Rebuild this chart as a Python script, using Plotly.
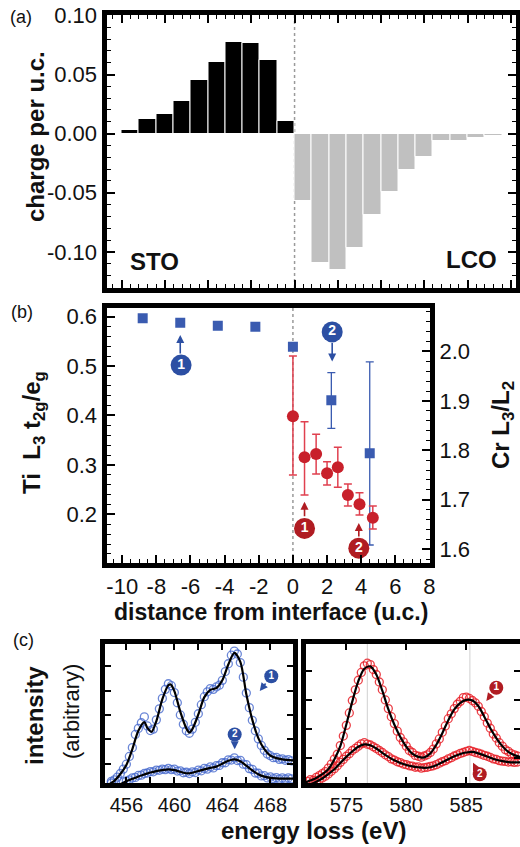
import numpy as np
import plotly.graph_objects as go

FONT = "Liberation Sans, Arial, Helvetica, sans-serif"
W, H = 520, 847

# ---------------- Panel (a): charge per unit cell ----------------
sto_pos = [-9.5, -8.5, -7.5, -6.5, -5.5, -4.5, -3.5, -2.5, -1.5, -0.5]
sto_charge = [0.003, 0.0126, 0.0165, 0.0275, 0.0455, 0.0604, 0.0772, 0.0764, 0.0624, 0.0106]
lco_pos = [0.5, 1.5, 2.5, 3.5, 4.5, 5.5, 6.5, 7.5, 8.5, 9.5, 10.5, 11.5]
lco_charge = [-0.0571, -0.1096, -0.1152, -0.0964, -0.0689, -0.0492, -0.031, -0.020,
              -0.0062, -0.0062, -0.0034, -0.0023]

# ---------------- Panel (b) ----------------
ti_x = [-8.8, -6.6, -4.4, -2.2, 0.0, 2.25, 4.5]
ti_ratio = [0.5965, 0.5876, 0.5816, 0.5795, 0.539, 0.431, 0.3235]
ti_err_up = [0, 0, 0, 0, 0, 0.0555, 0.185]
ti_err_dn = [0, 0, 0, 0, 0, 0.057, 0.1855]

cr_x = [0.0, 0.68, 1.36, 2.0, 2.63, 3.22, 3.9, 4.68]
cr_ratio = [1.869, 1.786, 1.7925, 1.7534, 1.7656, 1.7095, 1.6907, 1.6636]
cr_err_up = [0.122, 0.072, 0.040, 0.0235, 0.0405, 0.0223, 0.0235, 0.0236]
cr_err_dn = [0.119, 0.0763, 0.0405, 0.0236, 0.0405, 0.0223, 0.0217, 0.0229]

# ---------------- Panel (c): spectra ----------------
ti_e = np.round(np.arange(454.25, 470.001, 0.25), 2)
ti1_data = [-0.84, -0.80, -0.72, -0.66, -0.55, -0.40, -0.22, -0.02,
            0.30, 0.66, 1.20, 1.45, 1.68, 1.92, 1.55, 1.36,
            1.42, 1.80, 2.25, 2.68, 3.05, 3.28, 3.20, 2.92,
            2.50, 2.00, 1.62, 1.35, 1.25, 1.42, 1.70, 2.05,
            2.42, 2.75, 2.95, 3.08, 3.05, 3.15, 3.22, 3.42,
            3.78, 4.10, 4.45, 4.62, 4.50, 4.15, 3.55, 2.90,
            2.30, 1.78, 1.35, 1.02, 0.75, 0.55, 0.40, 0.33,
            0.25, 0.26, 0.18, 0.20, 0.14, 0.17, 0.12, 0.15]
ti2_data = [-0.80, -0.83, -0.79, -0.82, -0.80, -0.80, -0.74, -0.70,
            -0.66, -0.58, -0.56, -0.48, -0.47, -0.40, -0.38, -0.32,
            -0.33, -0.26, -0.27, -0.22, -0.24, -0.19, -0.24, -0.22,
            -0.30, -0.29, -0.37, -0.35, -0.40, -0.33, -0.36, -0.26,
            -0.29, -0.19, -0.22, -0.13, -0.17, -0.08, -0.07, 0.04,
            0.04, 0.16, 0.15, 0.24, 0.13, 0.14, -0.02, -0.04,
            -0.20, -0.23, -0.38, -0.39, -0.50, -0.49, -0.58, -0.54,
            -0.61, -0.57, -0.63, -0.58, -0.63, -0.58, -0.62, -0.59]
ti1_fit_e = [454.5, 455, 455.5, 456, 456.5, 457, 457.5, 457.75, 458.1, 458.5,
             459, 459.5, 459.7, 460, 460.5, 461, 461.25, 461.5, 462, 462.5,
             463, 463.5, 464, 464.5, 465, 465.5, 466, 466.5, 467, 467.5,
             468, 468.5, 469, 470]
ti1_fit = [-0.86, -0.70, -0.42, -0.05, 0.60, 1.35, 1.71, 1.47, 1.31, 1.75,
           2.65, 3.22, 3.25, 2.98, 2.13, 1.45, 1.28, 1.42, 2.02, 2.73,
           3.03, 3.10, 3.42, 4.07, 4.55, 4.18, 2.85, 1.80, 1.05, 0.60,
           0.33, 0.23, 0.18, 0.13]
ti2_fit_e = [455.5, 456, 456.5, 457, 457.5, 458, 458.5, 459, 459.5, 460,
             460.5, 461, 461.5, 462, 462.5, 463, 463.5, 464, 464.5, 465,
             465.5, 466, 466.5, 467, 467.5, 468, 468.5, 469, 470]
ti2_fit = [-0.84, -0.72, -0.62, -0.52, -0.44, -0.36, -0.30, -0.26, -0.23, -0.26,
           -0.33, -0.39, -0.37, -0.30, -0.23, -0.17, -0.12, 0.0, 0.12, 0.18,
           0.10, -0.08, -0.27, -0.43, -0.53, -0.58, -0.60, -0.61, -0.61]

cr_e = np.round(np.arange(571.5, 590.001, 0.25), 2)
cr1_data = [-0.85, -0.82, -0.76, -0.78, -0.68, -0.62, -0.55, -0.48,
            -0.36, -0.22, -0.05, 0.12, 0.42, 0.75, 1.12, 1.55,
            1.98, 2.35, 2.68, 2.95, 3.18, 3.27, 3.22, 3.05,
            2.88, 2.62, 2.35, 2.00, 1.70, 1.42, 1.18, 0.92,
            0.70, 0.55, 0.40, 0.25, 0.18, 0.08, 0.05, 0.02,
            0.06, 0.10, 0.18, 0.30, 0.48, 0.65, 0.88, 1.10,
            1.35, 1.52, 1.70, 1.85, 1.95, 2.08, 2.10, 2.05,
            1.98, 1.90, 1.78, 1.60, 1.42, 1.20, 1.02, 0.82,
            0.68, 0.52, 0.40, 0.28, 0.22, 0.14, 0.10, 0.06,
            0.05, 0.02, 0.03]
cr2_data = [-0.92, -0.93, -0.90, -0.86, -0.84, -0.76, -0.70, -0.64,
            -0.56, -0.47, -0.38, -0.28, -0.16, -0.06, 0.05, 0.14,
            0.25, 0.32, 0.40, 0.48, 0.52, 0.47, 0.44, 0.38,
            0.32, 0.25, 0.18, 0.10, 0.04, -0.04, -0.08, -0.14,
            -0.17, -0.22, -0.24, -0.28, -0.29, -0.33, -0.32, -0.36,
            -0.34, -0.33, -0.30, -0.28, -0.24, -0.19, -0.14, -0.10,
            -0.04, 0.00, 0.06, 0.10, 0.15, 0.18, 0.22, 0.25,
            0.22, 0.18, 0.16, 0.12, 0.08, 0.05, 0.01, -0.04,
            -0.06, -0.10, -0.12, -0.13, -0.15, -0.14, -0.16, -0.15,
            -0.17, -0.15, -0.16]
cr_fit_e = np.round(np.arange(571.5, 590.001, 0.5), 2)
cr1_fit = [-0.87, -0.79, -0.70, -0.57, -0.40, -0.06, 0.40, 1.15, 1.95, 2.65,
           3.08, 3.16, 2.88, 2.32, 1.68, 1.15, 0.72, 0.38, 0.14, 0.03,
           0.01, 0.15, 0.45, 0.85, 1.30, 1.67, 1.90, 2.00, 1.98, 1.79,
           1.42, 1.02, 0.68, 0.40, 0.20, 0.09, 0.03, 0.00]
cr2_fit = [-0.95, -0.92, -0.83, -0.72, -0.57, -0.40, -0.18, 0.03, 0.22, 0.38,
           0.46, 0.43, 0.32, 0.17, 0.03, -0.09, -0.18, -0.25, -0.30, -0.33,
           -0.35, -0.33, -0.26, -0.16, -0.05, 0.05, 0.13, 0.18, 0.20, 0.15,
           0.08, 0.00, -0.07, -0.12, -0.15, -0.16, -0.16, -0.16]
cr_ref_lines = [576.75, 585.3]

BLUE = "#3a5bb0"
BLUE_DARK = "#2c4fa3"
RED = "#c8202b"
RED_ERR = "#e0404f"
RED_DARK = "#b01c22"


def px(x):
    return x / W


def py(y):
    return 1 - y / H


fig = go.Figure()

# panel a bars
fig.add_trace(go.Bar(x=sto_pos, y=sto_charge, width=1, xaxis="x", yaxis="y",
                     marker=dict(color="black", line=dict(color="white", width=1)),
                     showlegend=False))
fig.add_trace(go.Bar(x=lco_pos, y=lco_charge, width=1, xaxis="x", yaxis="y",
                     marker=dict(color="#c0c0c0", line=dict(color="white", width=1)),
                     showlegend=False))

# panel b
fig.add_trace(go.Scatter(x=ti_x, y=ti_ratio, xaxis="x2", yaxis="y2", mode="markers",
                         marker=dict(symbol="square", size=10, color=BLUE),
                         error_y=dict(type="data", symmetric=False, array=ti_err_up,
                                      arrayminus=ti_err_dn, color=BLUE, thickness=1.3, width=4),
                         showlegend=False))
fig.add_trace(go.Scatter(x=cr_x, y=cr_ratio, xaxis="x2", yaxis="y3", mode="markers",
                         marker=dict(symbol="circle", size=12, color=RED),
                         error_y=dict(type="data", symmetric=False, array=cr_err_up,
                                      arrayminus=cr_err_dn, color=RED_ERR, thickness=1.5, width=4),
                         showlegend=False))

# panel c spectra
for yd in (ti1_data, ti2_data):
    fig.add_trace(go.Scatter(x=ti_e, y=yd, xaxis="x4", yaxis="y4", mode="markers",
                             marker=dict(symbol="circle-open", size=8, color="rgba(70,105,205,0.8)",
                                         line=dict(width=1.3)),
                             showlegend=False))
for xe, yf in ((ti1_fit_e, ti1_fit), (ti2_fit_e, ti2_fit)):
    fig.add_trace(go.Scatter(x=xe, y=yf, xaxis="x4", yaxis="y4", mode="lines",
                             line=dict(color="black", width=2.2, shape="spline", smoothing=0.8),
                             showlegend=False))
for yd in (cr1_data, cr2_data):
    fig.add_trace(go.Scatter(x=cr_e, y=yd, xaxis="x5", yaxis="y5", mode="markers",
                             marker=dict(symbol="circle-open", size=8, color="rgba(232,32,40,0.85)",
                                         line=dict(width=1.3)),
                             showlegend=False))
for yf in (cr1_fit, cr2_fit):
    fig.add_trace(go.Scatter(x=cr_fit_e, y=yf, xaxis="x5", yaxis="y5", mode="lines",
                             line=dict(color="black", width=2.2, shape="spline", smoothing=0.8),
                             showlegend=False))


# circled labels
def circ(x, y, t, color, xa, ya, size, fsize):
    fig.add_trace(go.Scatter(x=[x], y=[y], xaxis=xa, yaxis=ya, mode="markers+text",
                             marker=dict(size=size, color=color),
                             text=["<b>%s</b>" % t], textposition="middle center",
                             textfont=dict(color="white", size=fsize, family=FONT),
                             showlegend=False, cliponaxis=False))


circ(-6.55, 0.502, "1", BLUE_DARK, "x2", "y2", 21, 14)
circ(2.3, 0.569, "2", BLUE_DARK, "x2", "y2", 21, 14)
circ(0.68, 1.642, "1", RED_DARK, "x2", "y3", 21, 14)
circ(3.86, 1.602, "2", RED_DARK, "x2", "y3", 21, 14)
circ(468.08, 3.59, "1", BLUE_DARK, "x4", "y4", 14, 10)
circ(465.03, 1.20, "2", BLUE_DARK, "x4", "y4", 14, 10)
circ(587.5, 2.42, "1", RED_DARK, "x5", "y5", 14, 10)
circ(586.12, -0.574, "2", RED_DARK, "x5", "y5", 14, 10)

tickfont_ab = dict(family=FONT, size=22, color="#111")
tickfont_c = dict(family=FONT, size=20, color="#111")
frame = dict(showline=True, linecolor="black", linewidth=5, ticks="inside",
             showgrid=False, zeroline=False, tickcolor="black")

fig.update_layout(
    width=W, height=H, margin=dict(l=0, r=0, t=0, b=0, autoexpand=False),
    paper_bgcolor="white", plot_bgcolor="white", bargap=0, barmode="overlay",
    font=dict(family=FONT, color="#111"),
    xaxis=dict(**frame, domain=[px(106.5), px(516)], anchor="y", range=[-10.87, 12.8],
               tick0=0, dtick=2.5, ticklen=8, tickwidth=1.5, mirror="ticks", showticklabels=False,
               minor=dict(dtick=0.5, ticklen=4, tickwidth=1, ticks="inside", tickcolor="black")),
    yaxis=dict(**frame, domain=[py(288), py(15)], anchor="x", range=[-0.1305, 0.1003],
               tickvals=[-0.10, -0.05, 0, 0.05, 0.10],
               ticktext=["-0.10", "-0.05", "0.00", "0.05", "0.10"],
               ticklen=8, tickwidth=1.5, mirror="ticks", tickfont=tickfont_ab,
               minor=dict(dtick=0.01, ticklen=4, tickwidth=1, ticks="inside", tickcolor="black")),
    xaxis2=dict(**frame, domain=[px(106.5), px(430)], anchor="y2", range=[-10.92, 8.03],
                tickvals=[-10, -8, -6, -4, -2, 0, 2, 4, 6, 8],
                ticktext=["-10", "-8", "-6", "-4", "-2", "0", "2", "4", "6", "8"],
                ticklen=8, tickwidth=1.5, mirror=True, tickfont=tickfont_ab,
                minor=dict(dtick=0.5, ticklen=4, tickwidth=1, ticks="inside", tickcolor="black")),
    yaxis2=dict(**frame, domain=[py(563), py(308)], anchor="x2", range=[0.1016, 0.6174],
                dtick=0.1, tickformat=".1f", ticklen=8, tickwidth=1.5, tickfont=tickfont_ab,
                minor=dict(dtick=0.02, ticklen=4, tickwidth=1, ticks="inside", tickcolor="black")),
    yaxis3=dict(**frame, overlaying="y2", side="right", anchor="x2", range=[1.572, 2.088],
                dtick=0.1, tickformat=".1f", ticklen=8, tickwidth=1.5, tickfont=tickfont_ab,
                minor=dict(dtick=0.02, ticklen=4, tickwidth=1, ticks="inside", tickcolor="black")),
    xaxis4=dict(**frame, domain=[px(105), px(293)], anchor="y4", range=[454.22, 469.89],
                tickvals=[456, 460, 464, 468],
                ticklen=6, tickwidth=2, mirror="ticks", tickfont=tickfont_c,
                minor=dict(tick0=456, dtick=2, ticklen=6, tickwidth=2, ticks="inside",
                           tickcolor="black")),
    yaxis4=dict(**frame, domain=[py(783), py(644)], anchor="x4", range=[-0.79, 4.91],
                tickvals=[0, 1, 2, 3, 4], showticklabels=False, ticklen=6, tickwidth=2,
                mirror="ticks"),
    xaxis5=dict(**frame, domain=[px(306), 1.0], anchor="y5", range=[571.64, 589.475],
                tickvals=[575, 580, 585], ticklen=6, tickwidth=2, mirror="ticks",
                tickfont=tickfont_c),
    yaxis5=dict(**frame, domain=[py(783), py(644)], anchor="x5", range=[-0.875, 3.935],
                tickvals=[0, 1, 2, 3], showticklabels=False, ticklen=6, tickwidth=2,
                mirror="ticks"),
)

shapes = [
    dict(type="line", xref="x", yref="y domain", x0=0, x1=0, y0=0, y1=1,
         line=dict(color="#9a9a9a", width=1.5, dash="dot"), layer="below"),
    dict(type="line", xref="x2", yref="y2 domain", x0=0, x1=0, y0=0, y1=1,
         line=dict(color="#9a9a9a", width=1.5, dash="dot"), layer="below"),
]
for e in cr_ref_lines:
    shapes.append(dict(type="line", xref="x5", yref="y5 domain", x0=e, x1=e, y0=0, y1=1,
                       line=dict(color="#d0d0d0", width=1), layer="below"))
fig.update_layout(shapes=shapes)

ann = []


def txt(x, y, s, size, bold=False, angle=0, color="#111"):
    ann.append(dict(x=px(x), y=py(y), xref="paper", yref="paper", showarrow=False,
                    text=("<b>%s</b>" % s) if bold else s, textangle=angle,
                    font=dict(family=FONT, size=size, color=color),
                    xanchor="center", yanchor="middle"))


txt(21, 17, "(a)", 18)
txt(22, 312, "(b)", 18)
txt(23, 640, "(c)", 18)
txt(35, 137, "charge per u.c.", 24, True, -90)
txt(154, 262, "STO", 24, True)
txt(471, 260, "LCO", 24, True)
txt(33, 433, "Ti  L<sub>3</sub> t<sub>2g</sub>/e<sub>g</sub>", 24, True, -90)
txt(502, 425, "Cr L<sub>3</sub>/L<sub>2</sub>", 24, True, -90)
txt(271, 612, "distance from interface (u.c.)", 23, True)
txt(34, 716, "intensity", 24, True, -90)
txt(71, 712, "(arbitrary)", 22, False, -90)
txt(313, 830, "energy loss (eV)", 24, True)


def arrow(x, y, xr, yr, ax, ay, color):
    ann.append(dict(x=x, y=y, xref=xr, yref=yr, ax=ax, ay=ay, text="", showarrow=True,
                    arrowhead=2, arrowsize=1, arrowwidth=1.6, arrowcolor=color))


arrow(-6.6, 0.563, "x2", "y2", 0, 20, BLUE_DARK)
arrow(2.3, 0.509, "x2", "y2", 0, -20, BLUE_DARK)
arrow(0.68, 1.696, "x2", "y3", 0, 16, RED_DARK)
arrow(3.86, 1.653, "x2", "y3", 0, 15, RED_DARK)
arrow(467.12, 2.98, "x4", "y4", 7, -9, BLUE_DARK)
arrow(465.03, 0.59, "x4", "y4", 0, -8, BLUE_DARK)
arrow(586.67, 1.96, "x5", "y5", 6, -8, RED_DARK)
arrow(585.56, -0.173, "x5", "y5", 3, 6, RED_DARK)

fig.update_layout(annotations=ann)

POST = ("document.documentElement.style.margin='0';document.body.style.margin='0';"
        "document.body.style.padding='0';document.body.style.overflow='hidden';"
        "document.documentElement.style.overflow='hidden';")
fig.write_html("out.html", post_script=POST,
               config={"responsive": False, "displayModeBar": False})
